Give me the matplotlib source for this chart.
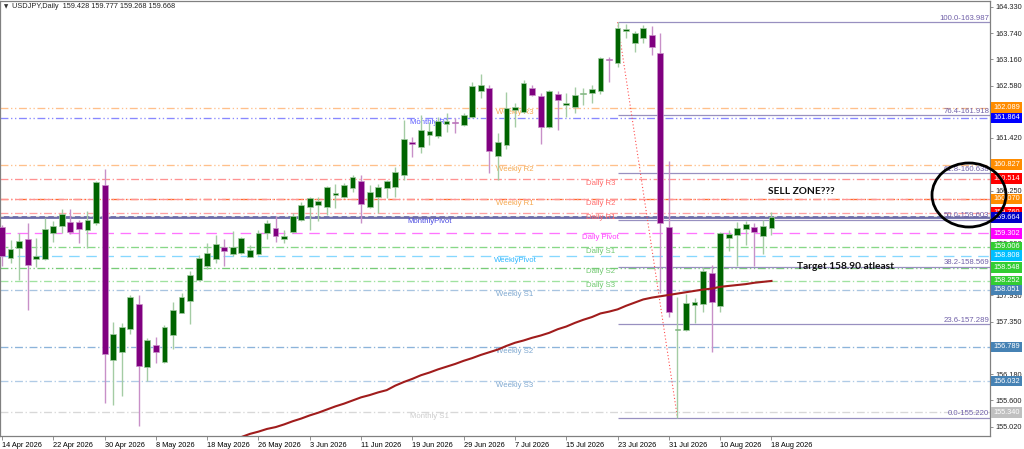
import matplotlib
matplotlib.use("Agg")
import matplotlib.pyplot as plt
from matplotlib.patches import Ellipse
from matplotlib.transforms import blended_transform_factory

# ---------------- data ----------------
tick_labels = ["14 Apr 2026", "22 Apr 2026", "30 Apr 2026", "8 May 2026", "18 May 2026",
               "26 May 2026", "3 Jun 2026", "11 Jun 2026", "19 Jun 2026", "29 Jun 2026",
               "7 Jul 2026", "15 Jul 2026", "23 Jul 2026", "31 Jul 2026", "10 Aug 2026",
               "18 Aug 2026"]

opens = [159.44, 158.75, 158.97, 159.17, 158.74, 158.74, 159.32, 159.47, 159.55, 159.55,
         159.38, 159.53, 160.38, 156.50, 156.68, 157.18, 157.75, 156.35, 156.84, 156.45,
         157.05, 157.53, 157.80, 158.27, 158.58, 158.74, 159.00, 158.85, 158.88, 158.79,
         158.84, 159.31, 159.42, 159.19, 159.34, 159.60, 159.88, 159.93, 159.89, 160.16,
         160.11, 160.32, 160.46, 159.88, 160.12, 160.31, 160.33, 160.60, 161.32, 161.21,
         161.48, 161.46, 161.73, 161.78, 161.71, 161.88, 162.47, 162.52, 161.01, 161.27,
         162.03, 161.99, 162.52, 162.35, 161.67, 162.39, 162.15, 162.11, 162.39, 162.42,
         162.46, 163.18, 163.08, 163.80, 163.53, 163.63, 163.70, 163.30, 159.45, 157.16,
         157.16, 157.72, 157.73, 158.42, 157.70, 159.21, 159.27, 159.40, 159.45, 159.25,
         159.428]
highs = [159.50, 159.16, 159.31, 159.53, 159.20, 159.64, 159.57, 159.84, 159.84, 159.60,
         159.79, 160.47, 160.74, 157.33, 157.31, 157.93, 157.94, 156.98, 157.00, 157.27,
         157.78, 157.98, 158.46, 158.83, 159.09, 159.27, 159.17, 159.36, 159.23, 159.05,
         159.38, 159.60, 159.68, 159.38, 159.76, 160.01, 160.12, 160.12, 160.36, 160.40,
         160.43, 160.59, 160.60, 160.38, 160.40, 160.49, 160.78, 161.82, 161.45, 161.93,
         161.77, 161.89, 161.97, 161.86, 161.98, 162.67, 162.84, 162.60, 161.53, 162.43,
         162.19, 162.71, 162.60, 162.41, 162.48, 162.45, 162.41, 162.56, 162.52, 162.60,
         163.22, 163.22, 163.987, 163.94, 163.78, 163.93, 163.90, 163.74, 160.90, 157.90,
         157.96, 157.87, 158.57, 158.60, 159.34, 159.38, 159.55, 159.57, 159.53, 159.60,
         159.777]
lows = [158.58, 158.64, 158.27, 157.61, 158.55, 158.72, 159.12, 159.31, 159.29, 159.10,
        158.98, 159.49, 155.54, 155.50, 155.70, 157.08, 155.04, 156.03, 156.44, 156.44,
        156.74, 157.53, 157.30, 158.25, 158.51, 158.64, 158.59, 158.80, 158.85, 158.78,
        158.83, 159.17, 159.11, 159.09, 159.31, 159.58, 159.37, 159.59, 159.71, 159.86,
        160.08, 160.23, 159.54, 159.86, 159.75, 160.08, 160.12, 160.49, 160.99, 161.08,
        161.27, 161.41, 161.56, 161.54, 161.69, 161.86, 162.30, 160.64, 160.49, 161.17,
        161.67, 161.97, 162.34, 161.28, 161.65, 161.60, 161.89, 161.97, 162.14, 162.19,
        162.39, 162.66, 163.00, 163.63, 163.33, 163.52, 163.25, 157.98, 157.46, 155.220,
        157.14, 157.31, 157.57, 156.68, 157.56, 158.92, 158.59, 159.05, 158.59, 158.84,
        159.268]
closes = [158.80, 158.95, 159.14, 158.61, 158.81, 159.40, 159.47, 159.74, 159.33, 159.41,
          159.60, 160.44, 156.63, 157.07, 157.24, 157.90, 156.37, 156.94, 156.68, 157.23,
          157.61, 157.90, 158.39, 158.76, 158.86, 159.08, 158.92, 159.00, 159.20, 158.94,
          159.31, 159.53, 159.25, 159.25, 159.68, 159.94, 160.10, 160.02, 160.33, 160.19,
          160.37, 160.56, 159.96, 160.22, 160.34, 160.47, 160.66, 161.40, 161.29, 161.60,
          161.58, 161.80, 161.80, 161.75, 161.93, 162.57, 162.60, 161.12, 161.34, 162.08,
          162.10, 162.63, 162.37, 161.67, 162.45, 162.26, 162.19, 162.37, 162.42, 162.51,
          163.19, 163.14, 163.85, 163.84, 163.74, 163.85, 163.43, 159.53, 157.56, 157.19,
          157.76, 157.78, 158.46, 157.79, 159.31, 159.29, 159.43, 159.51, 159.33, 159.47,
          159.668]

ma_start = 28
ma_values = [154.79, 154.86, 154.91, 154.97, 155.01, 155.07, 155.14, 155.20, 155.27, 155.33,
             155.40, 155.47, 155.53, 155.60, 155.67, 155.72, 155.78, 155.83, 155.93, 156.01,
             156.08, 156.16, 156.22, 156.29, 156.35, 156.41, 156.48, 156.54, 156.61, 156.67,
             156.73, 156.81, 156.88, 156.93, 156.99, 157.04, 157.10, 157.18, 157.24, 157.32,
             157.39, 157.45, 157.53, 157.57, 157.62, 157.70, 157.77, 157.84, 157.88, 157.91,
             157.94, 157.97, 158.00, 158.03, 158.06, 158.08, 158.12, 158.14, 158.16, 158.18,
             158.21, 158.23, 158.25]

level_names = ["Weekly R3", "Monthly R1", "Weekly R2", "Daily R3", "Weekly R1", "Daily R2",
               "Daily R1", "MonthlyPivot", "Daily Pivot", "Daily S1", "WeeklyPivot",
               "Daily S2", "Daily S3", "Weekly S1", "Weekly S2", "Weekly S3", "Monthly S1"]
level_values = [162.089, 161.864, 160.827, 160.514, 160.070, 160.060, 159.760, 159.664,
                159.302, 159.006, 158.808, 158.548, 158.252, 158.051, 156.789, 156.032,
                155.340]
level_line_colors = ["#ffc08a", "#8888ff", "#ffc08a", "#ff9292", "#ff6a2a", "#ff9292",
                     "#ffa2a2", "#6b6ba8", "#ff74ff", "#88d888", "#86d8ff", "#78cc78",
                     "#a0e2a0", "#a8c4e0", "#8cb4da", "#b0cbe6", "#d8d8d8"]
level_text_colors = ["#f5a850", "#5a5aff", "#f5a850", "#ff6a6a", "#f5a850", "#ff6a6a",
                     "#ff6a6a", "#4a4ae0", "#ff40ff", "#70c870", "#30b8ff", "#70c870",
                     "#70c870", "#7fa8d0", "#7fa8d0", "#7fa8d0", "#cccccc"]
level_box_colors = ["#ff8c00", "#0000ff", "#ff8c00", "#ff0000", "#ff8c00", None,
                    "#ff0000", "#0000c8", "#ff00ff", "#32cd32", "#00bfff", "#32cd32",
                    "#32cd32", "#4682b4", "#4682b4", "#4682b4", "#c0c0c0"]
level_styles = ["dd", "dd", "dd", "d", "dd", "d", "d", "solid", "dash", "d", "dash",
                "dd", "d", "d", "d", "d", "d"]
level_label_x = [60, 50, 60, 70, 60, 70, 70, 50, 70, 70, 60, 70, 70, 60, 60, 60, 50]

fib_pcts = ["0.0", "23.6", "38.2", "50.0", "61.8", "76.4", "100.0"]
fib_values = [155.220, 157.289, 158.569, 159.603, 160.638, 161.918, 163.987]
fib_start = 72
fib_end_idx = 79

# visible price-scale ticks (others are covered by the level boxes in the reference)
y_ticks = [164.330, 163.740, 163.160, 162.580, 161.420, 160.250,
           159.090, 157.930, 157.350, 156.180, 155.600, 155.020]

title = "USDJPY,Daily  159.428 159.777 159.268 159.668"

# ---------------- figure ----------------
W, H = 1024, 449
fig = plt.figure(figsize=(W / 100, H / 100), dpi=100)
fig.patch.set_facecolor("white")
ax = fig.add_axes([0, 13 / H, 990 / W, 435 / H])
XMIN, XMAX = -0.234, 115.56
ax.set_xlim(XMIN, XMAX)
ax.set_ylim(154.813, 164.456)
for s in ax.spines.values():
    s.set_color("#808080")
    s.set_linewidth(0.9)

FONT = "Liberation Sans"
styles = {"d": (0, (6, 2, 1, 2)), "dd": (0, (6, 2, 1, 2, 1, 2)), "dash": (0, (8, 5)),
          "solid": "-"}

# levels
for name, v, lc, tc, st, lx in zip(level_names, level_values, level_line_colors,
                                    level_text_colors, level_styles, level_label_x):
    if st == "solid":
        ax.axhline(v, color=lc, lw=2.0, zorder=1.2)
        ax.axhline(v + 0.025, color="#d8d8d8", lw=0.8, ls=(0, (3, 5)), zorder=1.3)
    else:
        ax.axhline(v, color=lc, lw=0.95, ls=styles[st], zorder=1)
    ax.text(lx, v - 0.02, name, color=tc, fontsize=5.6, family=FONT,
            ha="center", va="top", zorder=2)

# fibonacci
for p, v in zip(fib_pcts, fib_values):
    ax.hlines(v, fib_start, XMAX, color="#9890c0", lw=0.9, zorder=1.5)
    ax.text(XMAX - 0.1, v + 0.01, f"{p}-{v:.3f}", color="#7060a8", fontsize=5.6,
            family=FONT, ha="right", va="bottom", zorder=2)
ax.plot([fib_start, fib_end_idx], [fib_values[-1], fib_values[0]], color="#ff5050",
        lw=0.8, ls=(0, (1, 2)), zorder=3)

# candles
for i, (o, h, l, c) in enumerate(zip(opens, highs, lows, closes)):
    bull = c >= o
    body = "#006400" if bull else "#800080"
    wick = "#a4cca4" if bull else "#c890c8"
    ax.vlines(i, l, h, color=wick, lw=1.0, zorder=4)
    lo, hi = min(o, c), max(o, c)
    ax.bar(i, max(hi - lo, 0.025), bottom=lo, width=0.68, color=body,
           edgecolor=wick, linewidth=0.5, zorder=5)

# moving average
ax.plot(range(ma_start, ma_start + len(ma_values)), ma_values, color="#a01c1c",
        lw=1.5, zorder=6)

# annotations
ax.text(89.6, 160.23, "SELL ZONE???", fontsize=7.3, fontweight="bold", family="Lato",
        color="#111111", ha="left", va="center", zorder=7)
ax.text(93.0, 158.56, "Target 158.90 atleast", fontsize=7.3, fontweight="bold",
        family="Lato", color="#111111", ha="left", va="center", zorder=7)

# x axis
ax.set_xticks(range(0, 6 * len(tick_labels), 6))
ax.set_xticklabels(tick_labels, ha="left", fontsize=5.3, family=FONT)
ax.tick_params(axis="x", length=3, width=0.6, color="#808080", pad=1.5,
               labelcolor="black")

# y axis on the right
ax.yaxis.tick_right()
ax.set_yticks(y_ticks)
ax.set_yticklabels([f"{t:.3f}" for t in y_ticks], fontsize=5.3, family=FONT)
ax.tick_params(axis="y", length=2.5, width=0.6, color="#808080", pad=1.5,
               labelcolor="#222222")

trans = blended_transform_factory(ax.transAxes, ax.transData)
for v, bc in zip(level_values, level_box_colors):
    if bc is None:
        continue
    ax.text(1.0032, v, f"{v:.3f}", transform=trans, fontsize=5.3, family=FONT,
            color="white", ha="left", va="center", clip_on=False, zorder=10,
            bbox=dict(boxstyle="square,pad=0.25", fc=bc, ec="none"))

# title
fig.text(4 / W, 1 - 7 / H, "▼", fontsize=4, color="#333333", va="center")
fig.text(12 / W, 1 - 7 / H, title, fontsize=5.3, family=FONT, color="#222222",
         va="center")

# circle
fig.patches.append(Ellipse((969 / W, 1 - 195 / H), 74 / W, 64 / H, fill=False,
                           ec="black", lw=2.0, transform=fig.transFigure, zorder=20))

fig.savefig("out.png", dpi=100)
